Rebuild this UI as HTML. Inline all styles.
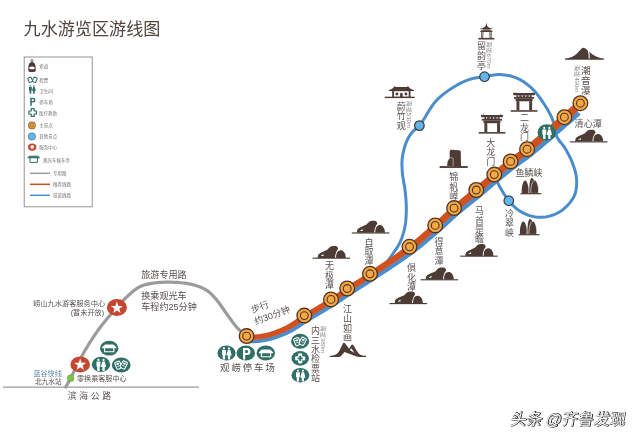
<!DOCTYPE html>
<html lang="zh"><head><meta charset="utf-8"><title>九水游览区游线图</title><style>html,body{margin:0;padding:0;background:#fff;font-family:"Liberation Sans",sans-serif}body{width:640px;height:440px;overflow:hidden}svg{display:block;filter:blur(0.5px)}svg text{font-family:"Liberation Sans","Noto Sans CJK SC",sans-serif}</style></head><body>
<svg width="640" height="440" viewBox="0 0 640 440"><rect width="640" height="440" fill="#fff"/>
<text x="23.6" y="34.8" font-size="17.1" fill="#51433e">九水游览区游线图</text>
<rect x="24.2" y="57" width="68" height="149.8" fill="#fff" stroke="#8c8886" stroke-width="0.9"/>
<g fill="#726e6c" font-size="4.5"><text x="39.2" y="67.91">索道</text><text x="39.2" y="81.51">检票</text><text x="39.2" y="93.31">卫生间</text><text x="39.2" y="104.11">停车场</text><text x="39" y="115.31">医疗救助</text><text x="39.2" y="127.31">主景点</text><text x="39.2" y="138.11">其他景点</text><text x="39.2" y="148.91">服务中心</text><text x="43" y="162.11">观光车候车亭</text><text x="53" y="175.11">专用路</text><text x="53" y="186.11">推荐线路</text><text x="53" y="197.11">游览线路</text></g>
<path d="M30,173.3H50" stroke="#9b9b9b" stroke-width="1.5" fill="none"/>
<path d="M30,184.3H50" stroke="#d1501f" stroke-width="1.5" fill="none"/>
<path d="M30,195.3H50" stroke="#4b8dcb" stroke-width="1.5" fill="none"/>
<g transform="translate(32 66.6)"><circle cx="0" cy="-6" r="1.15" fill="none" stroke="#4d3b35" stroke-width="0.75"/><path d="M-3.7,1.6Q-3.7,-4.6 0,-4.6Q3.7,-4.6 3.7,1.6V3.6Q3.7,5.4 2,5.4H-2Q-3.7,5.4 -3.7,3.6Z" fill="#4d3b35"/><path d="M-2.6,0.6Q0,-0.6 2.6,0.6V2.2Q0,3.2 -2.6,2.2Z" fill="#fff"/></g>
<g fill="none" stroke="#2f6f66" stroke-width="1.05"><rect x="28.4" y="77.4" width="3.6" height="4.8" rx="0.9" transform="rotate(-25 30.2 79.8)"/><rect x="33" y="77.4" width="3.6" height="4.8" rx="0.9" transform="rotate(25 34.8 79.8)"/></g>
<g fill="#2f6f66" transform="translate(32.1 89.3) scale(0.66)"><circle cx="-2.55" cy="-5" r="1.25"/><path d="M-4.7,-3.3h4.3v5.2h-0.85v4.9h-2.6v-4.9h-0.85z"/><circle cx="2.75" cy="-5" r="1.25"/><path d="M1.4,-3.3h2.7l1.5,5.9h-1.6v4.2h-2.5v-4.2h-1.6z"/></g>
<path transform="translate(32.2 101.7) scale(0.7)" fill="#2f6f66" fill-rule="evenodd" d="M-2.8,-5.7H1.2A3.5,3.5 0 0 1 1.2,1.3H-0.6V5.8H-2.8ZM-0.6,-3.7V-0.7H0.9A1.5,1.5 0 0 0 0.9,-3.7Z"/>
<path transform="translate(32.7 112.5) scale(1.15)" d="M-1.3,-3.3h2.6v2h2v2.6h-2v2h-2.6v-2h-2v-2.6h2z" fill="#fff" stroke="#2f6f66" stroke-width="1.05" stroke-linejoin="round"/>
<circle cx="31.9" cy="125.4" r="3.6" fill="#f5a843" stroke="#4f3424" stroke-width="0.6"/><circle cx="31.9" cy="125.4" r="1.7" fill="none" stroke="#4f3424" stroke-width="0.5"/>
<circle cx="31.9" cy="136.4" r="3.7" fill="#62b5ea" stroke="#5a6a78" stroke-width="0.6"/>
<ellipse cx="32.2" cy="147.1" rx="4.2" ry="3.7" fill="#c4472f"/><path d="M30.3,146.1l1.9-1l1.9,1l-0.6,2.5h-2.6z" fill="#fff"/>
<g fill="none" stroke="#2f6f66" stroke-width="1"><path d="M27.8,157.8l1.6-1.6h8.6l1.6,1.6z" fill="#2f6f66"/><path d="M30,158v4.4h7.4V158"/></g>
<path d="M3,387.1H199" stroke="#9b9b9b" stroke-width="1.4" fill="none"/>
<path d="M65.8,387L65.89,386.85L66.12,386.42L66.49,385.76L66.96,384.91L67.51,383.91L68.12,382.81L68.76,381.64L69.4,380.46L70.02,379.3L70.6,378.2L71.42,376.6L72.3,374.87L73.21,373.03L74.16,371.1L75.13,369.13L76.11,367.13L77.1,365.14L78.08,363.19L79.05,361.3L80,359.5L80.82,357.97L81.63,356.49L82.42,355.04L83.21,353.62L84,352.21L84.81,350.8L85.63,349.39L86.49,347.96L87.37,346.5L88.3,345L89.43,343.21L90.59,341.38L91.79,339.51L93.03,337.63L94.29,335.73L95.58,333.83L96.9,331.92L98.25,330.03L99.61,328.15L101,326.3L102.49,324.37L104.04,322.42L105.64,320.46L107.27,318.51L108.92,316.57L110.57,314.66L112.21,312.78L113.82,310.96L115.39,309.19L116.9,307.5L118.1,306.16L119.26,304.86L120.4,303.59L121.52,302.35L122.63,301.14L123.74,299.96L124.86,298.81L125.98,297.68L127.13,296.58L128.3,295.5L129.41,294.5L130.53,293.5L131.65,292.52L132.78,291.55L133.92,290.61L135.07,289.72L136.23,288.87L137.4,288.08L138.59,287.35L139.8,286.7L140.92,286.18L142.05,285.71L143.19,285.31L144.35,284.95L145.51,284.63L146.69,284.35L147.88,284.09L149.07,283.85L150.28,283.62L151.5,283.4L152.79,283.18L154.08,282.98L155.38,282.81L156.69,282.66L158.01,282.54L159.35,282.44L160.72,282.35L162.11,282.29L163.54,282.24L165,282.2L166.86,282.18L168.83,282.18L170.88,282.22L172.97,282.27L175.08,282.36L177.19,282.47L179.26,282.61L181.27,282.78L183.2,282.98L185,283.2L186.34,283.39L187.63,283.6L188.89,283.82L190.12,284.06L191.31,284.32L192.48,284.59L193.63,284.89L194.76,285.2L195.89,285.54L197,285.9L198.02,286.25L199.01,286.6L200,286.96L200.96,287.34L201.91,287.74L202.85,288.16L203.78,288.62L204.7,289.11L205.6,289.63L206.5,290.2L207.45,290.86L208.38,291.56L209.29,292.29L210.18,293.06L211.07,293.87L211.95,294.72L212.82,295.6L213.71,296.53L214.6,297.49L215.5,298.5L216.69,299.9L217.89,301.42L219.11,303.05L220.33,304.75L221.55,306.49L222.77,308.26L223.98,310.02L225.17,311.75L226.35,313.42L227.5,315L228.49,316.34L229.45,317.67L230.4,318.99L231.33,320.29L232.26,321.57L233.19,322.83L234.13,324.05L235.07,325.24L236.02,326.39L237,327.5L237.96,328.51L239.05,329.59L240.22,330.7L241.42,331.8L242.59,332.85L243.67,333.8L244.6,334.61L245.34,335.24L245.83,335.65L246,335.8" stroke="#9b9b9b" stroke-width="3.2" fill="none" stroke-linejoin="round" stroke-linecap="round"/>
<path d="M384,266L384.24,265.68L384.88,264.82L385.84,263.53L387.02,261.94L388.32,260.17L389.65,258.34L390.91,256.57L392,255L393.04,253.49L394.1,251.99L395.17,250.46L396.22,248.92L397.25,247.35L398.23,245.75L399.16,244.1L400,242.4L400.82,240.53L401.59,238.61L402.3,236.64L402.95,234.63L403.55,232.58L404.09,230.51L404.58,228.41L405,226.3L405.38,224.03L405.68,221.71L405.91,219.35L406.07,216.97L406.19,214.58L406.26,212.2L406.29,209.83L406.3,207.5L406.27,205.28L406.18,203.07L406.05,200.88L405.89,198.69L405.7,196.51L405.48,194.34L405.24,192.17L405,190L404.72,187.85L404.38,185.7L404.01,183.56L403.62,181.42L403.24,179.29L402.9,177.17L402.61,175.08L402.4,173L402.25,171.08L402.13,169.19L402.03,167.3L401.98,165.43L401.97,163.57L402.01,161.71L402.12,159.86L402.3,158L402.56,156.09L402.89,154.15L403.28,152.2L403.73,150.26L404.23,148.35L404.78,146.49L405.37,144.7L406,143L406.57,141.61L407.16,140.25L407.79,138.95L408.45,137.68L409.15,136.45L409.89,135.27L410.67,134.12L411.5,133L412.36,132L413.26,131.12L414.21,130.31L415.19,129.51L416.21,128.69L417.25,127.79L418.32,126.78L419.4,125.6L421.26,123.17L423.19,120.24L425.2,116.97L427.28,113.5L429.43,109.98L431.65,106.56L433.94,103.39L436.3,100.6L438.47,98.42L440.75,96.36L443.09,94.42L445.48,92.59L447.9,90.87L450.3,89.25L452.68,87.73L455,86.3L456.9,85.18L458.78,84.13L460.65,83.15L462.52,82.25L464.38,81.41L466.24,80.64L468.11,79.94L470,79.3L471.79,78.78L473.59,78.34L475.39,77.98L477.19,77.67L479.01,77.39L480.83,77.13L482.66,76.88L484.5,76.6L486.41,76.28L488.32,75.92L490.24,75.56L492.18,75.23L494.12,74.93L496.07,74.72L498.03,74.6L500,74.6L502.1,74.72L504.23,74.92L506.39,75.21L508.55,75.59L510.7,76.06L512.82,76.64L514.89,77.31L516.9,78.1L518.91,79.04L520.91,80.11L522.86,81.29L524.78,82.58L526.65,83.95L528.47,85.39L530.22,86.88L531.9,88.4L533.49,89.96L535.01,91.6L536.46,93.31L537.86,95.07L539.22,96.88L540.53,98.73L541.83,100.61L543.1,102.5L544.42,104.49L545.72,106.53L547,108.61L548.24,110.73L549.43,112.87L550.54,115.03L551.57,117.21L552.5,119.4L553.24,121.57L553.83,123.81L554.3,126.1L554.72,128.39L555.15,130.65L555.63,132.85L556.23,134.94L557,136.9L557.83,138.47L558.76,139.91L559.77,141.28L560.83,142.6L561.92,143.9L562.99,145.23L564.03,146.62L565,148.1L566.03,149.84L567.05,151.64L568.06,153.5L569.05,155.39L570,157.31L570.9,159.24L571.74,161.18L572.5,163.1L573.19,164.95L573.84,166.82L574.45,168.7L575.01,170.59L575.51,172.48L575.93,174.36L576.26,176.24L576.5,178.1L576.63,179.88L576.69,181.7L576.68,183.52L576.6,185.34L576.44,187.11L576.23,188.83L575.94,190.47L575.6,192L575.29,193.13L574.95,194.18L574.58,195.18L574.17,196.15L573.7,197.09L573.17,198.04L572.57,199L571.9,200L570.86,201.42L569.67,202.92L568.36,204.44L566.93,205.97L565.43,207.45L563.85,208.86L562.24,210.16L560.6,211.3L558.9,212.32L557.12,213.26L555.27,214.11L553.36,214.88L551.42,215.54L549.47,216.11L547.52,216.56L545.6,216.9L543.74,217.12L541.84,217.23L539.93,217.24L538.02,217.15L536.12,216.97L534.24,216.69L532.4,216.34L530.6,215.9L528.86,215.37L527.12,214.73L525.4,214L523.71,213.19L522.06,212.31L520.47,211.38L518.94,210.4L517.5,209.4L516.26,208.45L515.09,207.47L513.98,206.45L512.92,205.39L511.89,204.28L510.87,203.11L509.84,201.89L508.8,200.6L507.47,198.88L506.1,196.99L504.72,194.98L503.36,192.91L502.06,190.82L500.84,188.77L499.74,186.81L498.8,185L498.19,183.66L497.59,182.2L497.03,180.7L496.53,179.26L496.11,177.98L495.78,176.94L495.57,176.25L495.5,176" stroke="#4b8dcb" stroke-width="3" fill="none" stroke-linejoin="round"/>
<path d="M246.63,339.7L246.79,339.7L247.22,339.69L247.9,339.69L248.77,339.67L249.81,339.65L250.97,339.62L252.21,339.58L253.5,339.53L254.8,339.47L256.07,339.4L257.29,339.3L258.4,339.19L259.43,339.07L260.45,338.94L261.46,338.8L262.48,338.65L263.5,338.48L264.54,338.3L265.58,338.11L266.63,337.89L267.7,337.65L268.79,337.39L269.89,337.1L271.01,336.78L272.4,336.37L273.81,335.93L275.26,335.45L276.72,334.94L278.21,334.4L279.7,333.83L281.21,333.23L282.71,332.61L284.22,331.96L285.71,331.28L287.19,330.58L288.67,329.85L290.21,329.03L291.72,328.18L293.2,327.29L294.65,326.38L296.08,325.45L297.5,324.51L298.91,323.56L300.33,322.59L301.77,321.62L303.22,320.66L304.71,319.69L306.24,318.72L308.26,317.48L310.4,316.19L312.62,314.85L314.91,313.48L317.25,312.09L319.61,310.69L321.97,309.28L324.31,307.88L326.6,306.5L328.83,305.14L330.97,303.81L333,302.53L334.52,301.55L335.97,300.61L337.36,299.68L338.7,298.78L340.01,297.89L341.3,297.01L342.58,296.13L343.86,295.26L345.15,294.37L346.47,293.48L347.84,292.56L349.26,291.62L350.98,290.5L352.73,289.37L354.5,288.24L356.3,287.09L358.13,285.93L359.99,284.75L361.9,283.54L363.84,282.3L365.83,281.03L367.86,279.71L369.95,278.35L372.08,276.95L375.04,275L378.17,272.93L381.45,270.77L384.84,268.54L388.3,266.24L391.81,263.89L395.33,261.52L398.81,259.14L402.24,256.77L405.57,254.42L408.77,252.11L411.81,249.86L414.24,248.01L416.6,246.16L418.91,244.33L421.16,242.5L423.37,240.68L425.53,238.87L427.65,237.07L429.73,235.29L431.77,233.52L433.79,231.77L435.78,230.03L437.76,228.31L439.47,226.8L441.13,225.31L442.75,223.83L444.32,222.37L445.87,220.92L447.4,219.49L448.91,218.07L450.43,216.66L451.95,215.25L453.49,213.85L455.05,212.45L456.65,211.06L458.4,209.57L460.2,208.07L462.03,206.56L463.89,205.05L465.77,203.54L467.67,202.03L469.56,200.51L471.46,199L473.34,197.5L475.2,196L477.03,194.51L478.82,193.03L480.42,191.69L481.99,190.36L483.53,189.04L485.06,187.73L486.57,186.43L488.06,185.14L489.55,183.86L491.02,182.59L492.48,181.34L493.94,180.09L495.39,178.87L496.84,177.65L498.22,176.51L499.58,175.38L500.94,174.26L502.29,173.15L503.64,172.05L504.98,170.96L506.32,169.88L507.66,168.8L509,167.73L510.34,166.67L511.69,165.61L513.04,164.57L514.35,163.57L515.63,162.61L516.91,161.69L518.18,160.77L519.47,159.86L520.78,158.93L522.12,157.97L523.51,156.97L524.94,155.92L526.43,154.81L527.98,153.62L529.61,152.34L532.31,150.17L535.25,147.73L538.39,145.1L541.68,142.31L545.06,139.41L548.49,136.45L551.91,133.48L555.27,130.56L558.52,127.73L561.6,125.04L564.47,122.54L567.08,120.28L568.75,118.83L570.52,117.3L572.32,115.73L574.12,114.16L575.87,112.63L577.47,111.23L580.63,114.84L579.03,116.24L577.27,117.77L575.46,119.33L573.65,120.9L571.88,122.43L570.2,123.88L567.59,126.12L564.72,128.61L561.63,131.29L558.37,134.12L555,137.03L551.57,140L548.12,142.95L544.72,145.86L541.41,148.65L538.23,151.3L535.25,153.75L532.51,155.95L530.82,157.27L529.22,158.49L527.69,159.63L526.22,160.7L524.81,161.71L523.45,162.67L522.14,163.6L520.86,164.51L519.6,165.4L518.35,166.3L517.11,167.22L515.83,168.19L514.5,169.21L513.17,170.25L511.84,171.3L510.51,172.35L509.18,173.41L507.84,174.48L506.51,175.56L505.17,176.65L503.83,177.75L502.47,178.86L501.11,179.99L499.74,181.11L498.29,182.31L496.85,183.52L495.41,184.75L493.95,185.99L492.48,187.25L491,188.53L489.5,189.82L487.98,191.12L486.44,192.43L484.88,193.76L483.29,195.1L481.67,196.45L479.86,197.94L478,199.44L476.12,200.95L474.22,202.46L472.32,203.97L470.42,205.47L468.53,206.97L466.66,208.47L464.81,209.96L463,211.44L461.23,212.91L459.51,214.36L457.95,215.72L456.41,217.09L454.9,218.46L453.39,219.84L451.88,221.24L450.37,222.65L448.84,224.08L447.28,225.53L445.68,227.01L444.03,228.5L442.34,230.02L440.6,231.54L438.61,233.27L436.61,235L434.58,236.75L432.52,238.52L430.42,240.31L428.28,242.12L426.09,243.94L423.86,245.78L421.57,247.63L419.22,249.48L416.82,251.35L414.34,253.23L411.26,255.5L408.01,257.83L404.64,260.19L401.18,262.58L397.67,264.96L394.13,267.33L390.6,269.68L387.12,271.97L383.72,274.2L380.43,276.36L377.29,278.41L374.33,280.35L372.19,281.76L370.08,283.12L368.03,284.44L366.03,285.71L364.07,286.95L362.16,288.16L360.29,289.34L358.46,290.49L356.67,291.63L354.91,292.75L353.17,293.86L351.46,294.97L350.06,295.89L348.71,296.79L347.4,297.67L346.11,298.55L344.84,299.42L343.55,300.29L342.26,301.17L340.93,302.07L339.57,302.98L338.15,303.91L336.68,304.87L335.12,305.87L333.06,307.16L330.9,308.49L328.65,309.86L326.34,311.24L323.98,312.64L321.62,314.05L319.25,315.44L316.91,316.83L314.62,318.19L312.41,319.51L310.29,320.79L308.29,322.01L306.8,322.94L305.35,323.88L303.92,324.83L302.49,325.78L301.07,326.74L299.64,327.7L298.19,328.66L296.72,329.61L295.21,330.55L293.65,331.48L292.05,332.38L290.41,333.24L288.86,334.01L287.31,334.73L285.76,335.43L284.2,336.1L282.64,336.75L281.08,337.36L279.53,337.95L277.99,338.5L276.47,339.02L274.98,339.52L273.5,339.98L272.06,340.4L270.87,340.73L269.71,341.03L268.56,341.31L267.43,341.56L266.31,341.78L265.21,341.99L264.13,342.18L263.06,342.35L261.99,342.5L260.94,342.64L259.9,342.77L258.81,342.9L257.62,343.02L256.33,343.11L255,343.19L253.67,343.25L252.35,343.3L251.08,343.33L249.9,343.36L248.85,343.38L247.96,343.39L247.27,343.4L246.83,343.4L246.66,343.4Z" fill="#4b8dcb"/>
<path d="M246.59,334.8L246.74,334.8L247.16,334.79L247.82,334.78L248.68,334.76L249.69,334.73L250.82,334.7L252.03,334.65L253.28,334.59L254.53,334.53L255.73,334.45L256.85,334.35L257.85,334.25L258.82,334.13L259.79,334L260.75,333.86L261.71,333.71L262.67,333.55L263.63,333.37L264.59,333.18L265.57,332.97L266.55,332.75L267.55,332.5L268.57,332.23L269.6,331.93L270.91,331.53L272.25,331.1L273.62,330.64L275.01,330.14L276.42,329.62L277.84,329.07L279.27,328.49L280.7,327.89L282.13,327.26L283.54,326.61L284.94,325.93L286.3,325.24L287.72,324.49L289.1,323.69L290.47,322.86L291.84,321.99L293.2,321.09L294.57,320.16L295.96,319.21L297.38,318.24L298.82,317.25L300.31,316.24L301.85,315.23L303.44,314.21L305.48,312.94L307.63,311.62L309.86,310.26L312.15,308.87L314.48,307.46L316.83,306.04L319.18,304.62L321.49,303.21L323.76,301.82L325.95,300.47L328.05,299.15L330.03,297.88L331.51,296.92L332.91,295.98L334.27,295.07L335.58,294.17L336.87,293.29L338.14,292.41L339.41,291.52L340.69,290.64L341.99,289.73L343.33,288.82L344.71,287.88L346.15,286.91L347.9,285.75L349.65,284.6L351.43,283.45L353.23,282.28L355.06,281.11L356.92,279.91L358.81,278.7L360.73,277.45L362.7,276.17L364.71,274.86L366.76,273.5L368.87,272.09L371.81,270.12L374.93,268.03L378.2,265.85L381.56,263.6L385,261.29L388.47,258.93L391.95,256.56L395.39,254.17L398.76,251.8L402.03,249.47L405.16,247.18L408.11,244.96L410.47,243.14L412.77,241.32L415.02,239.5L417.22,237.69L419.38,235.89L421.49,234.09L423.57,232.3L425.62,230.53L427.64,228.76L429.63,227L431.61,225.26L433.56,223.53L435.22,222.05L436.83,220.58L438.4,219.12L439.95,217.68L441.47,216.23L442.98,214.79L444.5,213.36L446.02,211.92L447.56,210.48L449.13,209.03L450.73,207.58L452.39,206.12L454.18,204.57L456.01,203.02L457.86,201.47L459.74,199.93L461.63,198.39L463.53,196.85L465.42,195.33L467.3,193.81L469.16,192.3L470.99,190.81L472.78,189.33L474.52,187.87L476.08,186.55L477.61,185.23L479.13,183.92L480.64,182.61L482.13,181.3L483.61,180L485.09,178.71L486.56,177.43L488.03,176.15L489.5,174.88L490.97,173.62L492.44,172.37L493.82,171.21L495.18,170.07L496.54,168.93L497.9,167.8L499.25,166.68L500.6,165.57L501.95,164.47L503.3,163.37L504.65,162.27L506.01,161.18L507.38,160.1L508.76,159.01L510.12,157.96L511.46,156.95L512.78,155.98L514.08,155.04L515.37,154.1L516.67,153.17L517.99,152.22L519.33,151.24L520.7,150.21L522.13,149.14L523.6,147.99L525.15,146.76L527.77,144.62L530.64,142.21L533.73,139.59L536.97,136.8L540.31,133.9L543.7,130.93L547.09,127.95L550.42,125.01L553.65,122.16L556.72,119.45L559.58,116.93L562.18,114.64L563.84,113.18L565.59,111.65L567.37,110.07L569.16,108.5L570.89,106.96L572.54,105.5L574.05,104.16L575.39,102.97L576.5,101.98L577.35,101.22L577.9,100.74L578.09,100.57L583.31,106.5L583.12,106.67L582.57,107.15L581.71,107.9L580.59,108.89L579.24,110.07L577.72,111.4L576.06,112.85L574.31,114.38L572.51,115.95L570.71,117.52L568.94,119.05L567.27,120.5L564.66,122.76L561.8,125.26L558.71,127.95L555.46,130.78L552.1,133.7L548.68,136.67L545.25,139.63L541.87,142.53L538.58,145.32L535.44,147.96L532.49,150.39L529.8,152.57L528.16,153.85L526.6,155.04L525.11,156.16L523.68,157.21L522.3,158.21L520.95,159.16L519.64,160.09L518.35,161.01L517.08,161.92L515.81,162.85L514.53,163.8L513.22,164.8L511.87,165.84L510.52,166.9L509.18,167.96L507.84,169.03L506.5,170.1L505.16,171.19L503.82,172.28L502.48,173.38L501.13,174.49L499.77,175.6L498.4,176.74L497.03,177.87L495.58,179.09L494.13,180.32L492.67,181.56L491.21,182.81L489.74,184.08L488.26,185.36L486.76,186.65L485.25,187.95L483.73,189.27L482.18,190.59L480.61,191.91L479.01,193.25L477.22,194.73L475.39,196.23L473.52,197.73L471.64,199.23L469.75,200.74L467.85,202.26L465.96,203.77L464.07,205.28L462.21,206.79L460.38,208.29L458.59,209.79L456.85,211.28L455.25,212.67L453.68,214.07L452.15,215.47L450.63,216.87L449.11,218.28L447.6,219.7L446.07,221.14L444.52,222.58L442.95,224.05L441.33,225.53L439.66,227.02L437.95,228.53L435.97,230.26L433.98,231.99L431.97,233.74L429.92,235.51L427.84,237.3L425.72,239.09L423.56,240.9L421.35,242.73L419.09,244.56L416.78,246.4L414.42,248.24L411.98,250.1L408.95,252.35L405.74,254.66L402.41,257.01L398.98,259.39L395.49,261.77L391.98,264.14L388.47,266.48L385,268.78L381.61,271.02L378.33,273.18L375.2,275.24L372.25,277.2L370.11,278.6L368.02,279.96L365.99,281.28L364,282.55L362.06,283.79L360.15,285L358.29,286.18L356.46,287.34L354.66,288.49L352.89,289.62L351.14,290.75L349.42,291.87L348,292.81L346.64,293.72L345.32,294.62L344.03,295.5L342.75,296.38L341.47,297.25L340.18,298.13L338.87,299.02L337.53,299.93L336.13,300.85L334.68,301.8L333.16,302.78L331.13,304.06L328.98,305.39L326.76,306.75L324.46,308.13L322.12,309.54L319.76,310.94L317.4,312.35L315.07,313.74L312.77,315.11L310.55,316.44L308.42,317.74L306.4,318.97L304.87,319.94L303.39,320.91L301.93,321.87L300.5,322.84L299.08,323.8L297.66,324.76L296.24,325.7L294.81,326.64L293.36,327.55L291.88,328.44L290.35,329.3L288.81,330.11L287.32,330.85L285.84,331.55L284.34,332.23L282.83,332.89L281.32,333.51L279.81,334.11L278.31,334.68L276.82,335.22L275.35,335.73L273.91,336.21L272.48,336.66L271.1,337.07L269.97,337.39L268.86,337.68L267.77,337.94L266.7,338.18L265.64,338.4L264.59,338.6L263.55,338.78L262.52,338.95L261.5,339.1L260.49,339.24L259.47,339.37L258.43,339.49L257.32,339.6L256.09,339.69L254.82,339.77L253.51,339.83L252.22,339.88L250.98,339.92L249.82,339.95L248.78,339.97L247.9,339.99L247.23,339.99L246.79,340L246.63,340Z" fill="#d1501f"/>
<circle cx="246.6" cy="336.1" r="7.35" fill="#f5a843" stroke="#4f3424" stroke-width="1.3"/><circle cx="246.6" cy="336.1" r="3.9" fill="none" stroke="#4f3424" stroke-width="1.1"/>
<circle cx="304.3" cy="315.6" r="7.35" fill="#f5a843" stroke="#4f3424" stroke-width="1.3"/><circle cx="304.3" cy="315.6" r="3.9" fill="none" stroke="#4f3424" stroke-width="1.1"/>
<circle cx="331" cy="299.4" r="7.35" fill="#f5a843" stroke="#4f3424" stroke-width="1.3"/><circle cx="331" cy="299.4" r="3.9" fill="none" stroke="#4f3424" stroke-width="1.1"/>
<circle cx="347.2" cy="288.5" r="7.35" fill="#f5a843" stroke="#4f3424" stroke-width="1.3"/><circle cx="347.2" cy="288.5" r="3.9" fill="none" stroke="#4f3424" stroke-width="1.1"/>
<circle cx="370" cy="273.8" r="7.35" fill="#f5a843" stroke="#4f3424" stroke-width="1.3"/><circle cx="370" cy="273.8" r="3.9" fill="none" stroke="#4f3424" stroke-width="1.1"/>
<circle cx="409.5" cy="246.8" r="7.35" fill="#f5a843" stroke="#4f3424" stroke-width="1.3"/><circle cx="409.5" cy="246.8" r="3.9" fill="none" stroke="#4f3424" stroke-width="1.1"/>
<circle cx="435.2" cy="225.4" r="7.35" fill="#f5a843" stroke="#4f3424" stroke-width="1.3"/><circle cx="435.2" cy="225.4" r="3.9" fill="none" stroke="#4f3424" stroke-width="1.1"/>
<circle cx="454.1" cy="208.1" r="7.35" fill="#f5a843" stroke="#4f3424" stroke-width="1.3"/><circle cx="454.1" cy="208.1" r="3.9" fill="none" stroke="#4f3424" stroke-width="1.1"/>
<circle cx="476.3" cy="190" r="7.35" fill="#f5a843" stroke="#4f3424" stroke-width="1.3"/><circle cx="476.3" cy="190" r="3.9" fill="none" stroke="#4f3424" stroke-width="1.1"/>
<circle cx="494.3" cy="174.6" r="7.35" fill="#f5a843" stroke="#4f3424" stroke-width="1.3"/><circle cx="494.3" cy="174.6" r="3.9" fill="none" stroke="#4f3424" stroke-width="1.1"/>
<circle cx="510.6" cy="161.4" r="7.35" fill="#f5a843" stroke="#4f3424" stroke-width="1.3"/><circle cx="510.6" cy="161.4" r="3.9" fill="none" stroke="#4f3424" stroke-width="1.1"/>
<circle cx="527.1" cy="149.2" r="7.35" fill="#f5a843" stroke="#4f3424" stroke-width="1.3"/><circle cx="527.1" cy="149.2" r="3.9" fill="none" stroke="#4f3424" stroke-width="1.1"/>
<circle cx="564.4" cy="117.2" r="7.35" fill="#f5a843" stroke="#4f3424" stroke-width="1.3"/><circle cx="564.4" cy="117.2" r="3.9" fill="none" stroke="#4f3424" stroke-width="1.1"/>
<circle cx="580.4" cy="103.2" r="7.35" fill="#f5a843" stroke="#4f3424" stroke-width="1.3"/><circle cx="580.4" cy="103.2" r="3.9" fill="none" stroke="#4f3424" stroke-width="1.1"/>
<circle cx="484.5" cy="76.7" r="4.8" fill="#62b5ea" stroke="#3f3b3c" stroke-width="1.2"/>
<circle cx="419.4" cy="125.6" r="4.8" fill="#62b5ea" stroke="#3f3b3c" stroke-width="1.2"/>
<circle cx="508.8" cy="200.7" r="4.8" fill="#62b5ea" stroke="#3f3b3c" stroke-width="1.2"/>
<circle cx="70.6" cy="378.2" r="3.4" fill="#7cc245" stroke="#5e9b3a" stroke-width="0.4"/>
<ellipse cx="546.8" cy="132.4" rx="9.2" ry="8.2" fill="#2f6f66"/>
<g transform="translate(546.8 132.6) scale(1.0)" fill="#fff"><circle cx="-2.55" cy="-4.7" r="1.1"/><path d="M-4.5,-3.2h3.9v5h-0.75v4.6h-2.4v-4.6h-0.75z"/><circle cx="2.55" cy="-4.7" r="1.1"/><path d="M1.3,-3.2h2.5l1.4,5.6h-1.5v4h-2.3v-4h-1.5z"/></g>
<ellipse cx="226.5" cy="353" rx="9.1" ry="7.6" fill="#2f6f66"/>
<g transform="translate(226.5 353.1) scale(1.0)" fill="#fff"><circle cx="-2.55" cy="-4.7" r="1.1"/><path d="M-4.5,-3.2h3.9v5h-0.75v4.6h-2.4v-4.6h-0.75z"/><circle cx="2.55" cy="-4.7" r="1.1"/><path d="M1.3,-3.2h2.5l1.4,5.6h-1.5v4h-2.3v-4h-1.5z"/></g>
<ellipse cx="245.8" cy="353" rx="9.25" ry="7.6" fill="#2f6f66"/>
<path transform="translate(245.8 353.7)" fill="#fff" fill-rule="evenodd" d="M-2.8,-5.7H1.2A3.5,3.5 0 0 1 1.2,1.3H-0.6V5.8H-2.8ZM-0.6,-3.7V-0.7H0.9A1.5,1.5 0 0 0 0.9,-3.7Z"/>
<ellipse cx="265.8" cy="353" rx="9.25" ry="7.6" fill="#2f6f66"/>
<g transform="translate(266 353.2) scale(1.0)" fill="none" stroke="#fff" stroke-width="1.15"><path d="M-6.7,-0.6l2.7-2.5h8l2.7,2.5z" fill="#fff" stroke-linejoin="round"/><path d="M-4.6,-0.4v3.9h9.2v-3.9"/></g>
<ellipse cx="300.1" cy="341.3" rx="9.05" ry="7.5" fill="#2f6f66"/>
<g transform="translate(300.1 341.4) scale(1.0)"><g transform="translate(-2.9 0.2) rotate(-22)"><rect x="-2.6" y="-3.7" width="5.2" height="7.4" rx="1.1" fill="#2f6f66" stroke="#fff" stroke-width="1.05"/><rect x="-1.3" y="-2.3" width="2.6" height="1.7" fill="#fff"/><rect x="-1.3" y="0.5" width="2.6" height="0.8" fill="#fff"/></g><g transform="translate(2.6 -0.1) rotate(27)"><rect x="-2.6" y="-3.7" width="5.2" height="7.4" rx="1.1" fill="#2f6f66" stroke="#fff" stroke-width="1.05"/><rect x="-1.3" y="-2.3" width="2.6" height="1.7" fill="#fff"/><rect x="-1.3" y="0.5" width="2.6" height="0.8" fill="#fff"/></g></g>
<ellipse cx="300.2" cy="358.4" rx="8.7" ry="7.3" fill="#2f6f66"/>
<g transform="translate(300.2 358.4)"><path d="M-1.6,-4.6h3.2v3h3v3.2h-3v3h-3.2v-3h-3v-3.2h3z" fill="#fff" stroke="#fff" stroke-width="0.8" stroke-linejoin="round"/><path d="M-0.9,-2.6h1.8v1.7h1.7v1.8h-1.7v1.7h-1.8v-1.7h-1.7v-1.8h1.7z" fill="#2f6f66"/></g>
<ellipse cx="300.4" cy="375.2" rx="8.9" ry="7.3" fill="#2f6f66"/>
<g transform="translate(300.4 375.3) scale(0.97)" fill="#fff"><circle cx="-2.55" cy="-4.7" r="1.1"/><path d="M-4.5,-3.2h3.9v5h-0.75v4.6h-2.4v-4.6h-0.75z"/><circle cx="2.55" cy="-4.7" r="1.1"/><path d="M1.3,-3.2h2.5l1.4,5.6h-1.5v4h-2.3v-4h-1.5z"/></g>
<ellipse cx="109.2" cy="348.2" rx="9.2" ry="7.4" fill="#2f6f66"/>
<g transform="translate(109.2 348.2) scale(1.0)" fill="none" stroke="#fff" stroke-width="1.15"><path d="M-6.7,-0.6l2.7-2.5h8l2.7,2.5z" fill="#fff" stroke-linejoin="round"/><path d="M-4.6,-0.4v3.9h9.2v-3.9"/></g>
<ellipse cx="101" cy="364.4" rx="9.2" ry="7.6" fill="#2f6f66"/>
<g transform="translate(101 364.6) scale(1.0)" fill="#fff"><circle cx="-2.55" cy="-4.7" r="1.1"/><path d="M-4.5,-3.2h3.9v5h-0.75v4.6h-2.4v-4.6h-0.75z"/><circle cx="2.55" cy="-4.7" r="1.1"/><path d="M1.3,-3.2h2.5l1.4,5.6h-1.5v4h-2.3v-4h-1.5z"/></g>
<ellipse cx="121.2" cy="365" rx="9.4" ry="7.6" fill="#2f6f66"/>
<g transform="translate(121.2 365) scale(1.0)"><g transform="translate(-2.9 0.2) rotate(-22)"><rect x="-2.6" y="-3.7" width="5.2" height="7.4" rx="1.1" fill="#2f6f66" stroke="#fff" stroke-width="1.05"/><rect x="-1.3" y="-2.3" width="2.6" height="1.7" fill="#fff"/><rect x="-1.3" y="0.5" width="2.6" height="0.8" fill="#fff"/></g><g transform="translate(2.6 -0.1) rotate(27)"><rect x="-2.6" y="-3.7" width="5.2" height="7.4" rx="1.1" fill="#2f6f66" stroke="#fff" stroke-width="1.05"/><rect x="-1.3" y="-2.3" width="2.6" height="1.7" fill="#fff"/><rect x="-1.3" y="0.5" width="2.6" height="0.8" fill="#fff"/></g></g>
<ellipse cx="116.9" cy="307.5" rx="10" ry="8.5" fill="#c4472f"/>
<path d="M116.9,301.6L118.37,305.88L122.89,305.95L119.28,308.67L120.6,313L116.9,310.4L113.2,313L114.52,308.67L110.91,305.95L115.43,305.88Z" fill="#fff"/>
<ellipse cx="80.2" cy="364.4" rx="9.8" ry="8" fill="#c4472f"/>
<path d="M80.2,358.5L81.67,362.78L86.19,362.85L82.58,365.57L83.9,369.9L80.2,367.3L76.5,369.9L77.82,365.57L74.21,362.85L78.73,362.78Z" fill="#fff"/>
<g transform="translate(570 141.3)" fill="#4d3b35"><rect x="0" y="0" width="37.5" height="1.15"/><path d="M5.2,0.3C5.2,-2.2 5.6,-3.2 6.6,-3.9C8,-5 9.4,-5.6 11,-6.2C13,-6.9 14.4,-7.4 15.6,-8.8C17,-10.4 18.4,-11.6 20.2,-11.6L22.8,-11.6C24.4,-11.4 25.6,-10 25.5,-8.6C24,-6.8 22.6,-4 22.4,0.3Z"/><path d="M23.5,0.3C23.4,-3.4 24.2,-5.6 25.8,-6.7C27.4,-7.7 29.6,-7.4 31,-6C32.4,-4.6 33.2,-2.4 33.2,0.3Z"/><path d="M7.9,-1.5L10.9,-3.4L10.9,-1.5Z" fill="#fff"/></g>
<g transform="translate(351.8 232.4)" fill="#4d3b35"><rect x="0" y="0" width="37.5" height="1.15"/><path d="M5.2,0.3C5.2,-2.2 5.6,-3.2 6.6,-3.9C8,-5 9.4,-5.6 11,-6.2C13,-6.9 14.4,-7.4 15.6,-8.8C17,-10.4 18.4,-11.6 20.2,-11.6L22.8,-11.6C24.4,-11.4 25.6,-10 25.5,-8.6C24,-6.8 22.6,-4 22.4,0.3Z"/><path d="M23.5,0.3C23.4,-3.4 24.2,-5.6 25.8,-6.7C27.4,-7.7 29.6,-7.4 31,-6C32.4,-4.6 33.2,-2.4 33.2,0.3Z"/><path d="M7.9,-1.5L10.9,-3.4L10.9,-1.5Z" fill="#fff"/></g>
<g transform="translate(312.6 257.6)" fill="#4d3b35"><rect x="0" y="0" width="37.5" height="1.15"/><path d="M5.2,0.3C5.2,-2.2 5.6,-3.2 6.6,-3.9C8,-5 9.4,-5.6 11,-6.2C13,-6.9 14.4,-7.4 15.6,-8.8C17,-10.4 18.4,-11.6 20.2,-11.6L22.8,-11.6C24.4,-11.4 25.6,-10 25.5,-8.6C24,-6.8 22.6,-4 22.4,0.3Z"/><path d="M23.5,0.3C23.4,-3.4 24.2,-5.6 25.8,-6.7C27.4,-7.7 29.6,-7.4 31,-6C32.4,-4.6 33.2,-2.4 33.2,0.3Z"/><path d="M7.9,-1.5L10.9,-3.4L10.9,-1.5Z" fill="#fff"/></g>
<g transform="translate(420.6 279.2)" fill="#4d3b35"><rect x="0" y="0" width="37.5" height="1.15"/><path d="M5.2,0.3C5.2,-2.2 5.6,-3.2 6.6,-3.9C8,-5 9.4,-5.6 11,-6.2C13,-6.9 14.4,-7.4 15.6,-8.8C17,-10.4 18.4,-11.6 20.2,-11.6L22.8,-11.6C24.4,-11.4 25.6,-10 25.5,-8.6C24,-6.8 22.6,-4 22.4,0.3Z"/><path d="M23.5,0.3C23.4,-3.4 24.2,-5.6 25.8,-6.7C27.4,-7.7 29.6,-7.4 31,-6C32.4,-4.6 33.2,-2.4 33.2,0.3Z"/><path d="M7.9,-1.5L10.9,-3.4L10.9,-1.5Z" fill="#fff"/></g>
<g transform="translate(389.6 303)" fill="#4d3b35"><rect x="0" y="0" width="37.5" height="1.15"/><path d="M5.2,0.3C5.2,-2.2 5.6,-3.2 6.6,-3.9C8,-5 9.4,-5.6 11,-6.2C13,-6.9 14.4,-7.4 15.6,-8.8C17,-10.4 18.4,-11.6 20.2,-11.6L22.8,-11.6C24.4,-11.4 25.6,-10 25.5,-8.6C24,-6.8 22.6,-4 22.4,0.3Z"/><path d="M23.5,0.3C23.4,-3.4 24.2,-5.6 25.8,-6.7C27.4,-7.7 29.6,-7.4 31,-6C32.4,-4.6 33.2,-2.4 33.2,0.3Z"/><path d="M7.9,-1.5L10.9,-3.4L10.9,-1.5Z" fill="#fff"/></g>
<g transform="translate(460.2 255.6)" fill="#4d3b35"><rect x="0" y="0" width="37.5" height="1.15"/><path d="M5.2,0.3C5.2,-2.2 5.6,-3.2 6.6,-3.9C8,-5 9.4,-5.6 11,-6.2C13,-6.9 14.4,-7.4 15.6,-8.8C17,-10.4 18.4,-11.6 20.2,-11.6L22.8,-11.6C24.4,-11.4 25.6,-10 25.5,-8.6C24,-6.8 22.6,-4 22.4,0.3Z"/><path d="M23.5,0.3C23.4,-3.4 24.2,-5.6 25.8,-6.7C27.4,-7.7 29.6,-7.4 31,-6C32.4,-4.6 33.2,-2.4 33.2,0.3Z"/><path d="M7.9,-1.5L10.9,-3.4L10.9,-1.5Z" fill="#fff"/></g>
<g transform="translate(520.4 193.1)" fill="#4d3b35"><path d="M1.5,0.3C0.7,-5 2.5,-12.5 4.7,-12.5C6.9,-12.5 8.9,-5 7.9,0.3Z"/><path d="M8.9,0.3C8.5,-7 9.6,-15.2 11.2,-15.2C12.6,-15.2 13.6,-13.4 14.2,-11L14.2,0.3Z"/><path d="M10.6,0.3C9.8,-5 11.8,-12.8 14.3,-12.8C16.8,-12.8 18.9,-5 17.9,0.3Z" stroke="#fff" stroke-width="0.6"/><rect x="0" y="0" width="20.9" height="1.2"/></g>
<g transform="translate(518.6 234.1)" fill="#4d3b35"><path d="M1.5,0.3C0.7,-5 2.5,-12.5 4.7,-12.5C6.9,-12.5 8.9,-5 7.9,0.3Z"/><path d="M8.9,0.3C8.5,-7 9.6,-15.2 11.2,-15.2C12.6,-15.2 13.6,-13.4 14.2,-11L14.2,0.3Z"/><path d="M10.6,0.3C9.8,-5 11.8,-12.8 14.3,-12.8C16.8,-12.8 18.9,-5 17.9,0.3Z" stroke="#fff" stroke-width="0.6"/><rect x="0" y="0" width="20.9" height="1.2"/></g>
<g transform="translate(439.75 166.25)" fill="#4d3b35"><rect x="0" y="0" width="27.8" height="1.5"/><path d="M10,0.2L9.9,-14.4Q9.9,-16.4 11.8,-16.4L19.4,-15.9Q21,-15.8 21,-14.4L21.3,0.2Z"/><path d="M7,0.2L7.6,-4.6Q8.6,-7.8 11,-8.8L13.4,-7.8L13.4,0.2Z" stroke="#fff" stroke-width="0.5"/><rect x="0" y="0" width="27.8" height="1.5"/></g>
<path d="M565,58.5C570,58.2 574,56.4 577,53.6L581.4,48.8Q583.2,46.6 585.4,48.6L590,52.6C594.4,56.6 599,58.2 603.8,58.5L603.8,59.8L565,59.8Z" fill="#4d3b35"/><path d="M588.4,50.6Q589.4,54 589.2,58.4" stroke="#fff" stroke-width="1.1" fill="none"/>
<path d="M329.8,357V355.9C334,355.8 337.2,354.8 339.4,350.8L342.7,343.9Q343.8,342 345.1,343.6L349.2,348.8L351,345.4Q352.2,343.6 353.5,345.4C356,349.4 358.2,354.2 361.6,355.3C363,355.7 364.6,355.8 366,355.8V357H359.5C357.6,356.9 356,356.6 354.6,355.8L344.5,352L340.8,356.2Q340,357 338.6,357Z" fill="#4d3b35"/><path d="M349.7,349.9L351.4,348.2L354.5,353Z" fill="#fff"/>
<g fill="#4d3b35"><path d="M486.4,22.6L487.1,26H485.7Z"/><path d="M479.9,28.7C483,28.2 485.4,27.2 486.4,24.8C487.4,27.2 489.8,28.2 492.9,28.7L492.3,29.3H480.5Z"/><rect x="482.9" y="29.3" width="7" height="1" opacity="0.8"/><path d="M479.9,32L481.4,30.3H491.4L492.9,32Z"/><path d="M481.2,32h0.7v6h-0.7zM482.6,32h0.7v6h-0.7zM489.5,32h0.7v6h-0.7zM490.9,32h0.7v6h-0.7z"/><rect x="481.9" y="32" width="0.7" height="6" opacity="0.45"/><rect x="490.2" y="32" width="0.7" height="6" opacity="0.45"/><rect x="478.3" y="37.9" width="16" height="1.6"/></g>
<g fill="#4d3b35"><path d="M388.8,91V90C391,89.6 393.4,88.6 394.7,86.1L395.6,87H407.1L408,86.1C409.3,88.6 411.7,89.6 413.9,90V91Z"/><rect x="392.2" y="90.8" width="18.3" height="6.4"/><rect x="394" y="91.2" width="14.7" height="5.6" fill="#fff"/><circle cx="396.9" cy="94" r="1.45"/><circle cx="405.9" cy="94" r="1.45"/><path d="M400.1,96.9V93.6Q401.4,91.9 402.7,93.6V96.9Z"/><rect x="384.7" y="96.7" width="30" height="1.4"/></g>
<g transform="translate(513.1 92.5)" fill="#4d3b35"><path d="M-0.1,0.9L0.2,0.3L2.2,0.5L2.6,-0.3L3.3,0.5H18.6L19.3,-0.3L19.7,0.5L21.7,0.3L22,0.9L21.5,2.8H0.4Z"/><rect x="3.4" y="2.7" width="15.1" height="1.9"/><rect x="0.9" y="4.45" width="20.1" height="1.8"/><rect x="2.5" y="6.2" width="16.9" height="2.6"/><rect x="3.4" y="8.7" width="2.9" height="9.2"/><rect x="16.1" y="8.7" width="2.9" height="9.2"/><rect x="-2.3" y="17.7" width="26.7" height="1.55"/><g fill="#fff"><rect x="5" y="3" width="1.2" height="1.2"/><rect x="8.5" y="3" width="1.2" height="1.2"/><rect x="12" y="3" width="1.2" height="1.2"/><rect x="15.5" y="3" width="1.2" height="1.2"/></g></g>
<g transform="translate(481 114.4)" fill="#4d3b35"><path d="M-0.1,0.9L0.2,0.3L2.2,0.5L2.6,-0.3L3.3,0.5H18.6L19.3,-0.3L19.7,0.5L21.7,0.3L22,0.9L21.5,2.8H0.4Z"/><rect x="3.4" y="2.7" width="15.1" height="1.9"/><rect x="0.9" y="4.45" width="20.1" height="1.8"/><rect x="2.5" y="6.2" width="16.9" height="2.6"/><rect x="3.4" y="8.7" width="2.9" height="9.2"/><rect x="16.1" y="8.7" width="2.9" height="9.2"/><rect x="-2.3" y="17.7" width="26.7" height="1.55"/><g fill="#fff"><rect x="5" y="3" width="1.2" height="1.2"/><rect x="8.5" y="3" width="1.2" height="1.2"/><rect x="12" y="3" width="1.2" height="1.2"/><rect x="15.5" y="3" width="1.2" height="1.2"/></g></g>
<g fill="#57514e">
<text font-size="9"><tspan x="477.1" y="49.4">留</tspan><tspan x="477.1" y="59">韵</tspan><tspan x="477.1" y="68.6">亭</tspan></text>
<text font-size="9"><tspan x="396.7" y="109.9">蔚</tspan><tspan x="396.7" y="119.2">竹</tspan><tspan x="396.7" y="128.5">观</tspan></text>
<text font-size="9.6"><tspan x="580.9" y="73.8">潮</tspan><tspan x="580.9" y="83.8">音</tspan><tspan x="580.9" y="93.7">瀑</tspan></text>
<text font-size="9"><tspan x="519.9" y="121">二</tspan><tspan x="519.9" y="130.6">龙</tspan><tspan x="519.9" y="140.1">门</tspan></text>
<text font-size="9"><tspan x="486.2" y="145.6">大</tspan><tspan x="486.2" y="155.2">龙</tspan><tspan x="486.2" y="164.7">门</tspan></text>
<text font-size="9"><tspan x="449.3" y="179.8">锦</tspan><tspan x="449.3" y="189.5">帆</tspan><tspan x="449.3" y="199.1">嶂</tspan></text>
<text font-size="9"><tspan x="474.9" y="214.2">马</tspan><tspan x="474.9" y="223.6">首</tspan><tspan x="474.9" y="233">是</tspan><tspan x="474.9" y="242.4">瞻</tspan></text>
<text font-size="9"><tspan x="504.9" y="217">冷</tspan><tspan x="504.9" y="226.4">翠</tspan><tspan x="504.9" y="235.8">峡</tspan></text>
<text font-size="9"><tspan x="434.4" y="245">得</tspan><tspan x="434.4" y="254.4">意</tspan><tspan x="434.4" y="263.8">潭</tspan></text>
<text font-size="9"><tspan x="364.4" y="245.6">自</tspan><tspan x="364.4" y="255">取</tspan><tspan x="364.4" y="264.4">潭</tspan></text>
<text font-size="9"><tspan x="324.9" y="269.4">无</tspan><tspan x="324.9" y="278.8">极</tspan><tspan x="324.9" y="288.2">潭</tspan></text>
<text font-size="9"><tspan x="406.9" y="271.2">俱</tspan><tspan x="406.9" y="280.6">化</tspan><tspan x="406.9" y="290">潭</tspan></text>
<text font-size="9"><tspan x="343.1" y="312.4">江</tspan><tspan x="343.1" y="321.6">山</tspan><tspan x="343.1" y="330.8">如</tspan><tspan x="343.1" y="340">画</tspan></text>
<text font-size="9"><tspan x="311.1" y="334.1">内</tspan><tspan x="311.1" y="343.5">三</tspan><tspan x="311.1" y="352.9">水</tspan><tspan x="311.1" y="362.3">检</tspan><tspan x="311.1" y="371.7">票</tspan><tspan x="311.1" y="381.1">站</tspan></text>
<text x="574.6" y="127.46" font-size="9.1">清心潭</text>
<text x="515.4" y="175.66" font-size="9.1">鱼鳞峡</text>
<text x="220" y="371.25" font-size="9.6" letter-spacing="1.7">观崂停车场</text>
<text x="67.8" y="399.34" font-size="8.8" letter-spacing="2.7">滨海公路</text>
<text x="141.2" y="277.96" font-size="9.1">旅游专用路</text>
<text x="141.2" y="299.26" font-size="9.1">换乘观光车</text>
<text x="141.2" y="309.76" font-size="9.1">车程约25分钟</text>
<text x="33.2" y="306.14" font-size="7.2">崂山九水游客服务中心</text>
<text x="70.67" y="314.74" font-size="7.2">(暂未开放)</text>
<text x="77" y="381.1" font-size="7.1">零换乘客服中心</text>
</g>
<text x="33.4" y="376" font-size="7.1" fill="#6487ad">蓝谷快线</text>
<text x="35" y="384.35" font-size="6.7" fill="#57514e">北九水站</text>
<text x="250.7" y="310.26" font-size="9.1" fill="#57514e" transform="rotate(-20 259.8 306.8)">步行</text>
<text x="253.36" y="318.46" font-size="9.1" fill="#57514e" transform="rotate(-20 272.2 315)">约30分钟</text>
<text x="489" y="43.52" font-size="6.1" fill="#8f8b89" transform="rotate(90 489 41.2)">海拔670m</text>
<text x="409.3" y="102.92" font-size="6.1" fill="#8f8b89" transform="rotate(90 409.3 100.6)">海拔530m</text>
<text x="577.1" y="67.32" font-size="6.1" fill="#8f8b89" transform="rotate(90 577.1 65)">海拔490m</text>
<text x="323.7" y="327.92" font-size="6.1" fill="#8f8b89" transform="rotate(90 323.7 325.6)">海拔380m</text>
<g transform="translate(0 425.48) skewX(-10) translate(0 -425.48)"><text x="510.2" y="425.48" font-size="16" fill="#1c1c1c" stroke="#1c1c1c" stroke-width="0.9" stroke-linejoin="round">头条</text><text x="510.2" y="425.48" font-size="16" fill="#fff" transform="translate(-0.5 -0.6)">头条</text></g>
<g transform="translate(0 425.48) skewX(-10) translate(0 -425.48)"><text x="545.2" y="425.48" font-size="16" fill="#1c1c1c" stroke="#1c1c1c" stroke-width="0.9" stroke-linejoin="round">@齐鲁发现</text><text x="545.2" y="425.48" font-size="16" fill="#fff" transform="translate(-0.5 -0.6)">@齐鲁发现</text></g>
</svg>
</body></html>
